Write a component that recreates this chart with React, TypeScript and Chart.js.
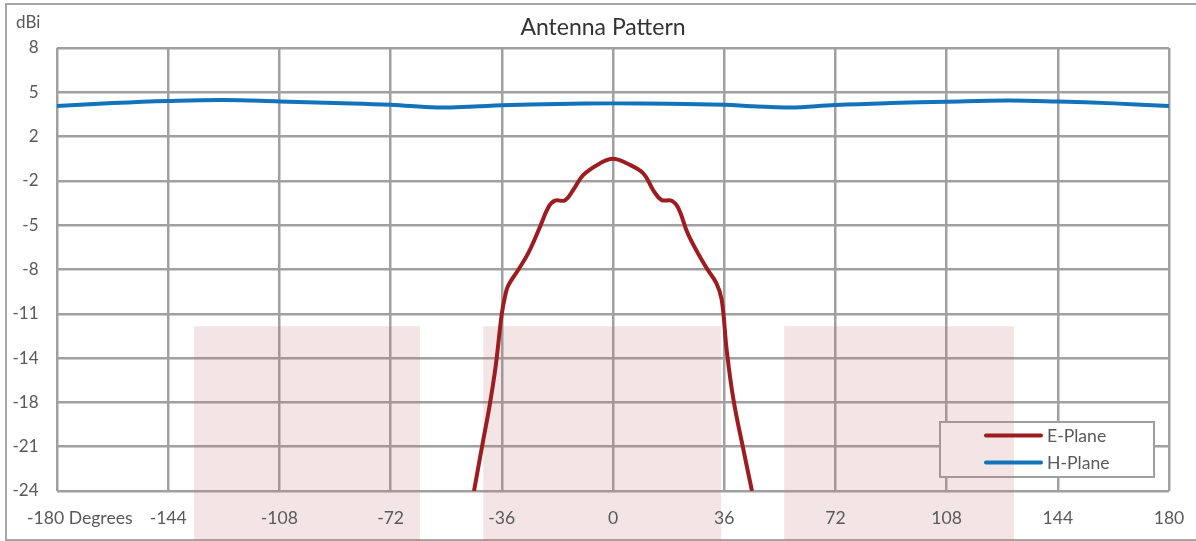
import { useEffect, useRef } from "react";
import { Chart, registerables } from "chart.js";

Chart.register(...registerables);

// ---------- data ----------
const chartTitle = "Antenna Pattern";
const yUnit = "dBi";
const seriesNames = ["E-Plane", "H-Plane"];
const seriesColors = ["#9d1c20", "#1273bb"];

const ePlaneDeg = [-45, -42, -40, -38, -36, -35, -34, -30.6, -27.4, -23.6, -20.9, -18.8, -15.5, -12.9, -9.6, -4.2, 0, 4.4, 9.8, 13, 15.7, 19, 21.2, 24.4, 30.3, 33.5, 35.2, 36.8, 39, 42.2, 45];
const ePlaneDbi = [-24, -20.3, -17.9, -15.0, -11.2, -10.0, -9.2, -8.0, -6.8, -4.9, -3.5, -3.03, -3.0, -2.26, -1.17, -0.33, 0, -0.33, -1.05, -2.26, -2.98, -3.03, -3.58, -5.5, -7.9, -9.0, -10.2, -13.8, -17.4, -21.0, -24];

const hPlaneDeg = [-180, -162, -144, -126, -108, -90, -72, -57, -45, -36, -18, 0, 18, 36, 45, 57, 72, 90, 108, 128, 144, 162, 180];
const hPlaneDbi = [3.81, 4.02, 4.17, 4.24, 4.14, 4.03, 3.9, 3.7, 3.78, 3.86, 3.96, 4.0, 3.98, 3.9, 3.8, 3.7, 3.88, 4.02, 4.12, 4.2, 4.13, 4.0, 3.81];

const xTicks = [-180, -144, -108, -72, -36, 0, 36, 72, 108, 144, 180];
const xTickLabels = ["-180 Degrees", "-144", "-108", "-72", "-36", "0", "36", "72", "108", "144", "180"];
const yTicks = [-24, -20.8, -17.6, -14.4, -11.2, -8, -4.8, -1.6, 1.6, 4.8, 8];
const yTickLabels = ["-24", "-21", "-18", "-14", "-11", "-8", "-5", "-2", "2", "5", "8"];

const bandStart = [-135.6, -42, 55.4];
const bandEnd = [-62.5, 35, 129.8];
const bandTop = -12.1;

// ---------- styles ----------
const FONT = "Lato";
const TEXT = "#595959";
const GRID = "#a0a0a0";

export default function App() {
  const ref = useRef<HTMLCanvasElement | null>(null);

  useEffect(() => {
    document.body.style.margin = "0";
    const canvas = ref.current;
    if (!canvas) return;

    const decor = {
      id: "decor",
      beforeDraw(chart: any) {
        const { ctx, width, height } = chart;
        ctx.save();
        ctx.fillStyle = "#ffffff";
        ctx.fillRect(0, 0, width, height);
        ctx.strokeStyle = "#a6a6a6";
        ctx.lineWidth = 2;
        ctx.strokeRect(6, 4, width + 20, height - 5);
        ctx.restore();
      },
      beforeDatasetsDraw(chart: any) {
        const { ctx, chartArea, scales, height } = chart;
        const xs = scales.x;
        const ys = scales.y;
        ctx.save();
        // legend box
        const lx = chartArea.right - 229;
        const ly = chartArea.bottom - 69;
        ctx.fillStyle = "#ffffff";
        ctx.fillRect(lx, ly, 214, 55);
        ctx.strokeStyle = "#a0a0a0";
        ctx.lineWidth = 2;
        ctx.strokeRect(lx, ly, 214, 55);
        // pink bands
        ctx.fillStyle = "rgba(190,115,120,0.185)";
        const top = ys.getPixelForValue(bandTop);
        for (let i = 0; i < bandStart.length; i++) {
          const a = xs.getPixelForValue(bandStart[i]);
          const b = xs.getPixelForValue(bandEnd[i]);
          ctx.fillRect(a, top, b - a, height - top);
        }
        ctx.restore();
      },
      afterDatasetsDraw(chart: any) {
        const { ctx, chartArea, scales, width } = chart;
        const xs = scales.x;
        ctx.save();
        // title
        ctx.fillStyle = "#333333";
        ctx.font = `23px ${FONT}`;
        ctx.textAlign = "center";
        ctx.textBaseline = "alphabetic";
        ctx.fillText(chartTitle, width / 2 + 5, 35);
        // unit
        ctx.fillStyle = TEXT;
        ctx.font = `17px ${FONT}`;
        ctx.textAlign = "left";
        ctx.fillText(yUnit, 16, 28);
        // x tick labels
        ctx.font = `17.6px ${FONT}`;
        const by = chartArea.bottom + 32.5;
        xTicks.forEach((v, i) => {
          const px = xs.getPixelForValue(v);
          if (i === 0) {
            ctx.textAlign = "left";
            ctx.fillText(xTickLabels[i], px - 30, by);
          } else {
            ctx.textAlign = "center";
            ctx.fillText(xTickLabels[i], px, by);
          }
        });
        // legend content
        const lx = chartArea.right - 229;
        const ly = chartArea.bottom - 69;
        seriesNames.forEach((name, i) => {
          const cy = ly + 13.5 + i * 27;
          ctx.strokeStyle = seriesColors[i];
          ctx.lineWidth = 4;
          ctx.lineCap = "round";
          ctx.beginPath();
          ctx.moveTo(lx + 46, cy);
          ctx.lineTo(lx + 101, cy);
          ctx.stroke();
          ctx.fillStyle = TEXT;
          ctx.textAlign = "left";
          ctx.textBaseline = "middle";
          ctx.fillText(name, lx + 107, cy + 0.5);
        });
        ctx.restore();
      },
    };

    const chart = new Chart(canvas, {
      type: "line",
      data: {
        datasets: [
          {
            label: seriesNames[0],
            data: ePlaneDeg.map((x, i) => ({ x, y: ePlaneDbi[i] })),
            borderColor: seriesColors[0],
            borderWidth: 4,
            pointRadius: 0,
            tension: 0.4,
            fill: false,
          },
          {
            label: seriesNames[1],
            data: hPlaneDeg.map((x, i) => ({ x, y: hPlaneDbi[i] })),
            borderColor: seriesColors[1],
            borderWidth: 4,
            pointRadius: 0,
            tension: 0.4,
            fill: false,
          },
        ],
      },
      options: {
        responsive: false,
        animation: false,
        layout: { padding: { left: 0, top: 48, right: 27, bottom: 50 } },
        plugins: {
          legend: { display: false },
          title: { display: false },
          tooltip: { enabled: false },
        },
        scales: {
          x: {
            type: "linear",
            min: -180,
            max: 180,
            afterBuildTicks: (s: any) => {
              s.ticks = xTicks.map((v) => ({ value: v }));
            },
            ticks: { display: false },
            grid: { color: GRID, lineWidth: 2.5, drawTicks: false },
            border: { display: false },
          },
          y: {
            type: "linear",
            min: -24,
            max: 8,
            afterBuildTicks: (s: any) => {
              s.ticks = yTicks.map((v) => ({ value: v }));
            },
            afterFit: (s: any) => {
              s.width = 57;
            },
            ticks: {
              callback: (_v: any, i: number) => yTickLabels[i],
              padding: 18.5,
              color: TEXT,
              font: { family: FONT, size: 17 },
            },
            grid: { color: GRID, lineWidth: 2.5, drawTicks: false },
            border: { display: false },
          },
        },
      },
      plugins: [decor],
    });

    return () => chart.destroy();
  }, []);

  return (
    <canvas
      ref={ref}
      width={1196}
      height={541}
      style={{ display: "block", width: "1196px", height: "541px" }}
    />
  );
}
